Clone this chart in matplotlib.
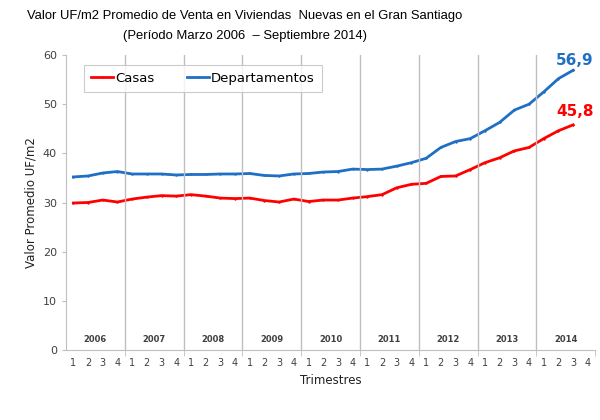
import matplotlib
matplotlib.use('Agg')
import matplotlib.pyplot as plt
import numpy as np

# datos trimestrales (Q1 2006 - Q3 2014)
years = [2006, 2007, 2008, 2009, 2010, 2011, 2012, 2013, 2014]
quarter_labels = ['1', '2', '3', '4']
casas = [29.9, 30.0, 30.5, 30.1, 30.7, 31.1, 31.4, 31.3, 31.6,
         31.3, 30.9, 30.8, 30.9, 30.4, 30.1, 30.7, 30.2, 30.5,
         30.5, 30.9, 31.2, 31.6, 33.0, 33.7, 33.9, 35.3, 35.4,
         36.7, 38.1, 39.1, 40.5, 41.2, 43.0, 44.6, 45.8]
deptos = [35.2, 35.4, 36.0, 36.3, 35.8, 35.8, 35.8, 35.6, 35.7,
          35.7, 35.8, 35.8, 35.9, 35.5, 35.4, 35.8, 35.9, 36.2,
          36.3, 36.8, 36.7, 36.8, 37.4, 38.1, 39.0, 41.2, 42.4,
          43.0, 44.6, 46.3, 48.8, 50.0, 52.5, 55.2, 56.9]

red = '#FF0000'
blue = '#1F6FC5'
grey = '#BFBFBF'

fig = plt.figure(figsize=(6, 4.2), dpi=100)
ax = fig.add_axes([0.11, 0.1667, 0.882, 0.7023])

x = np.arange(len(casas))
ax.plot(x, casas, color=red, lw=2.0, marker='+', ms=2, label='Casas')
ax.plot(x, deptos, color=blue, lw=2.0, marker='+', ms=2, label='Departamentos')

nq = len(years) * 4
ax.set_xlim(-0.5, nq - 0.5)
ax.set_ylim(0, 60)
ax.set_yticks(range(0, 61, 10))
ax.tick_params(axis='y', labelsize=8, colors='#404040', length=3, color=grey)

ax.set_xticks(np.arange(nq))
ax.set_xticklabels(quarter_labels * len(years), fontsize=7, color='#404040')
ax.tick_params(axis='x', length=0, pad=6)
ax.set_xticks(np.arange(3.5, nq, 4), minor=True)
ax.tick_params(axis='x', which='minor', length=4, color=grey)

for b in np.arange(3.5, nq - 1, 4):
    ax.axvline(b, color=grey, lw=1)
for i, yr in enumerate(years):
    ax.text(i * 4 + 1.5, 2.2, str(yr), ha='center', va='center',
            fontsize=6, fontweight='bold', color='#404040')

for s in ['top', 'right']:
    ax.spines[s].set_visible(False)
ax.spines['left'].set_color(grey)
ax.spines['bottom'].set_color(grey)

ax.set_ylabel('Valor Promedio UF/m2', fontsize=8.5, color='#202020')
ax.set_xlabel('Trimestres', fontsize=8.5, color='#202020', labelpad=4)

ax.text(x[-1] + 0.1, deptos[-1] + 0.5, '56,9', color=blue, fontsize=11,
        fontweight='bold', ha='center', va='bottom')
ax.text(x[-1] + 0.1, casas[-1] + 1.2, '45,8', color=red, fontsize=11,
        fontweight='bold', ha='center', va='bottom')

leg = ax.legend(loc='upper left', bbox_to_anchor=(0.022, 0.99), ncol=2,
                fontsize=9.5, frameon=True, fancybox=False, borderpad=0.55,
                handlelength=1.6, handletextpad=0.2, columnspacing=2.5)
leg.get_frame().set_edgecolor(grey)
leg.get_frame().set_linewidth(0.8)

fig.text(0.408, 0.962, 'Valor UF/m2 Promedio de Venta en Viviendas  Nuevas en el Gran Santiago',
         ha='center', va='center', fontsize=9.4, family='Liberation Sans')
fig.text(0.408, 0.915, '(Período Marzo 2006  – Septiembre 2014)',
         ha='center', va='center', fontsize=9.4, family='Liberation Sans')

fig.savefig('out.png', dpi=100)
